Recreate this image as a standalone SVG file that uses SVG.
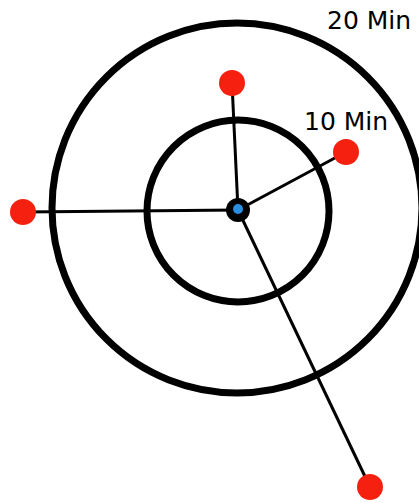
<svg xmlns="http://www.w3.org/2000/svg" width="419" height="503" viewBox="0 0 419 503">
<style>
.ring{fill:none;stroke:#000;stroke-width:7}
.link{stroke:#000;stroke-width:3}
.dest{fill:#f5200f}
.lbl{font-family:"DejaVu Sans",sans-serif;font-size:25px;fill:#000}
</style>
<rect width="419" height="503" fill="#fff"/>
<g id="rings">
<circle id="ring-20" class="ring" cx="237" cy="208" r="185"/>
<circle id="ring-10" class="ring" cx="238" cy="211" r="91"/>
</g>
<g id="connectors">
<line class="link" x1="238" y1="210" x2="232" y2="83"/>
<line class="link" x1="238" y1="210" x2="346" y2="152"/>
<line class="link" x1="238" y1="210" x2="23" y2="212"/>
<line class="link" x1="238" y1="210" x2="370" y2="487"/>
</g>
<g id="center"><circle cx="238" cy="210" r="12" fill="#000"/><circle cx="238" cy="209" r="5" fill="#2a8fe0"/></g>
<g id="node-top"><circle class="dest" cx="232" cy="83" r="13"/></g>
<g id="node-right"><circle class="dest" cx="346" cy="152" r="13"/></g>
<g id="node-left"><circle class="dest" cx="23" cy="212" r="13"/></g>
<g id="node-bottom"><circle class="dest" cx="370" cy="487" r="13"/></g>
<g id="label-20"><text class="lbl" x="327" y="29">20 Min</text></g>
<g id="label-10"><text class="lbl" x="304" y="130">10 Min</text></g>
</svg>
